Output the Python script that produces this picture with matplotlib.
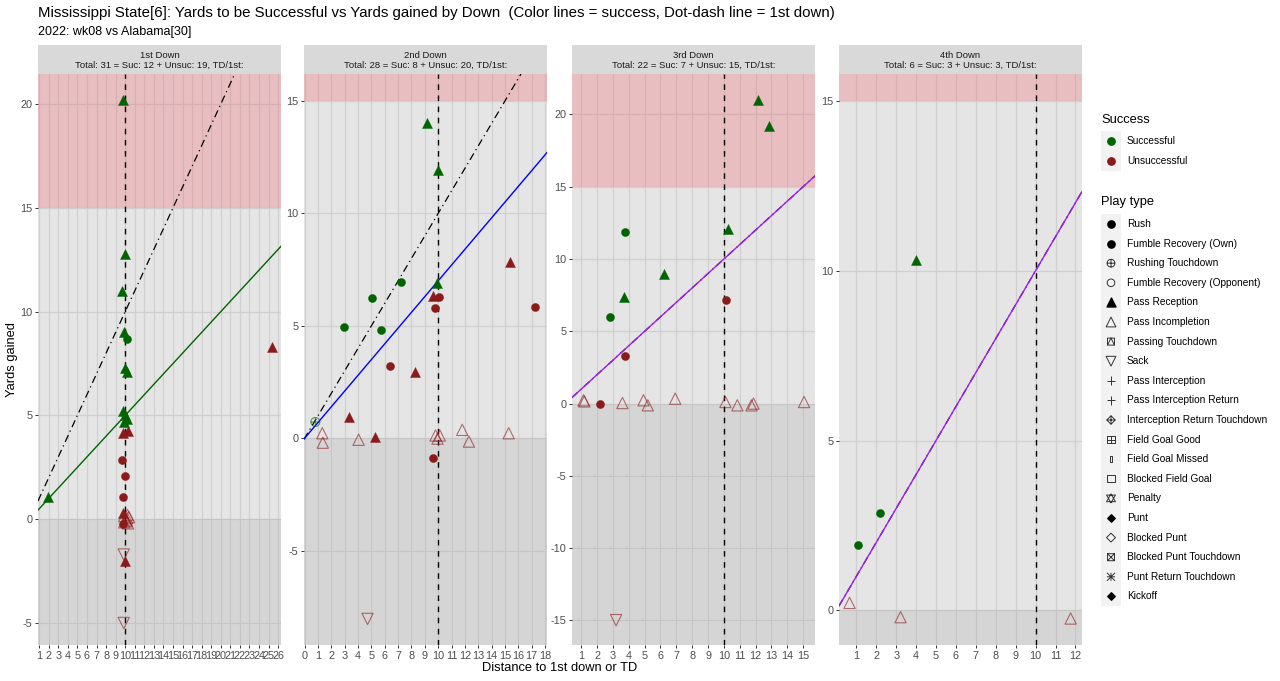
import numpy as np
import matplotlib.pyplot as plt
from matplotlib.path import Path

plt.rcParams['font.family'] = ['Liberation Sans', 'DejaVu Sans']
plt.rcParams['axes.unicode_minus'] = False

# =============================================================================
# data (distance to go, yards gained, success flag, play type)

down_names = ['1st Down', '2nd Down', '3rd Down', '4th Down']

dist1 = [1.95, 9.75, 10.0, 9.7, 9.85, 10.15, 9.95, 10.15, 9.8, 10.0, 10.2, 9.9,
         25.4, 9.8, 10.3, 9.7, 9.95, 9.8, 9.8, 10.25, 10.4, 10.1, 9.9, 10.3, 9.75,
         9.85, 10.0, 9.85, 10.2, 9.9, 10.15]
gain1 = [1.05, 20.2, 12.8, 11.0, 9.0, 8.7, 7.3, 7.1, 5.2, 5.0, 4.85, 4.7,
         8.3, 4.15, 4.25, 2.85, 2.1, 1.05, 0.3, 0.2, 0.1, -0.05, -0.15, -0.2, -0.25,
         -1.7, -2.0, -5.0, 0.05, 0.15, -0.1]
suc1 = [1] * 12 + [0] * 19
type1 = ['Pass Reception'] * 5 + ['Rush'] + ['Pass Reception'] * 6 + \
        ['Pass Reception'] * 3 + ['Rush'] * 3 + ['Pass Reception'] + \
        ['Pass Incompletion'] * 5 + ['Rush', 'Sack', 'Pass Reception', 'Sack'] + \
        ['Pass Incompletion'] * 3

dist2 = [9.18, 9.95, 9.9, 5.08, 7.22, 2.93, 5.73, 0.8,
         15.35, 17.24, 9.62, 10.07, 9.75, 6.4, 8.26, 3.3, 5.28, 9.62, 4.71,
         1.32, 1.36, 4.04, 9.8, 10.12, 11.8, 12.3, 15.28, 9.95]
gain2 = [14.03, 11.92, 6.89, 6.22, 6.96, 4.93, 4.81, 0.72,
         7.82, 5.82, 6.32, 6.27, 5.81, 3.23, 2.96, 0.96, 0.07, -0.89, -8.04,
         0.22, -0.2, -0.07, 0.12, 0.12, 0.37, -0.15, 0.22, -0.02]
suc2 = [1] * 8 + [0] * 20
type2 = ['Pass Reception'] * 3 + ['Rush'] * 4 + ['Rushing Touchdown'] + \
        ['Pass Reception', 'Rush', 'Pass Reception', 'Rush', 'Rush', 'Rush',
         'Pass Reception', 'Pass Reception', 'Pass Reception', 'Rush', 'Sack'] + \
        ['Pass Incompletion'] * 9

dist3 = [12.16, 12.85, 10.29, 3.75, 6.23, 3.67, 2.79,
         10.14, 3.77, 2.18, 1.15, 1.2, 3.6, 4.93, 5.2, 6.93, 10.1, 10.85,
         11.74, 11.87, 15.06, 3.2]
gain3 = [20.97, 19.2, 12.05, 11.87, 8.99, 7.37, 5.99,
         7.14, 3.27, 0.0, 0.23, 0.15, 0.04, 0.23, -0.12, 0.34, 0.11, -0.12,
         -0.12, 0.0, 0.11, -14.98]
suc3 = [1] * 7 + [0] * 15
type3 = ['Pass Reception'] * 3 + ['Rush', 'Pass Reception', 'Pass Reception', 'Rush'] + \
        ['Rush'] * 3 + ['Pass Incompletion'] * 11 + ['Sack']

dist4 = [4.01, 2.17, 1.08, 0.66, 3.22, 11.76]
gain4 = [10.3, 2.88, 1.92, 0.22, -0.2, -0.24]
suc4 = [1, 1, 1, 0, 0, 0]
type4 = ['Pass Reception', 'Rush', 'Rush'] + ['Pass Incompletion'] * 3

dists = [dist1, dist2, dist3, dist4]
gains = [gain1, gain2, gain3, gain4]
sucs = [suc1, suc2, suc3, suc4]
types = [type1, type2, type3, type4]

# success line slope and colour for each down
success_frac = [0.5, 0.7, 1.0, 1.0]
success_col = ['#006400', '#0000FF', '#A020F0', '#A020F0']

# axis ranges and ticks per panel
xlims = [(0.88, 26.3), (-0.05, 18.15), (0.42, 15.75), (0.13, 12.33)]
ylims = [(-6.06, 21.45), (-9.2, 16.2), (-16.7, 22.8), (-1.02, 15.79)]
xticks = [range(1, 27), range(0, 19), range(1, 16), range(1, 13)]
yticks = [range(-5, 21, 5), range(-5, 16, 5), range(-15, 21, 5), range(0, 16, 5)]

play_types = ['Rush', 'Fumble Recovery (Own)', 'Rushing Touchdown',
              'Fumble Recovery (Opponent)', 'Pass Reception', 'Pass Incompletion',
              'Passing Touchdown', 'Sack', 'Pass Interception',
              'Pass Interception Return', 'Interception Return Touchdown',
              'Field Goal Good', 'Field Goal Missed', 'Blocked Field Goal', 'Penalty',
              'Punt', 'Blocked Punt', 'Blocked Punt Touchdown',
              'Punt Return Touchdown', 'Kickoff']

# =============================================================================
# marker shapes (ggplot-like)
sq = Path([(-1, -1), (1, -1), (1, 1), (-1, 1), (-1, -1)], [1, 2, 2, 2, 79])
tri_up = Path([(-1, -0.75), (0, 1), (1, -0.75), (-1, -0.75)], [1, 2, 2, 79])
tri_dn = Path([(-1, 0.75), (0, -1), (1, 0.75), (-1, 0.75)], [1, 2, 2, 79])
diam = Path([(0, -1), (1, 0), (0, 1), (-1, 0), (0, -1)], [1, 2, 2, 2, 79])
hl = Path([(-1, 0), (1, 0)], [1, 2])
vl = Path([(0, -1), (0, 1)], [1, 2])
dg1 = Path([(-1, -1), (1, 1)], [1, 2])
dg2 = Path([(-1, 1), (1, -1)], [1, 2])
cmp = Path.make_compound_path

shapes = {
    'Rush': ('o', True, 34),
    'Fumble Recovery (Own)': ('o', True, 34),
    'Rushing Touchdown': (cmp(Path.unit_circle(), hl, vl), False, 42),
    'Fumble Recovery (Opponent)': ('o', False, 40),
    'Pass Reception': ('^', True, 52),
    'Pass Incompletion': ('^', False, 66),
    'Passing Touchdown': (cmp(sq, Path([(-1, -1), (0, 1), (1, -1)], [1, 2, 2])), False, 34),
    'Sack': ('v', False, 66),
    'Pass Interception': (cmp(hl, vl), False, 55),
    'Pass Interception Return': (cmp(hl, vl), False, 55),
    'Interception Return Touchdown': (cmp(diam, hl, vl), False, 50),
    'Field Goal Good': (cmp(sq, hl, vl), False, 34),
    'Field Goal Missed': (Path([(-0.25, -0.8), (0.25, -0.8), (0.25, 0.8), (-0.25, 0.8),
                                (-0.25, -0.8)], [1, 2, 2, 2, 79]), False, 28),
    'Blocked Field Goal': (sq, False, 34),
    'Penalty': (cmp(tri_up, tri_dn), False, 55),
    'Punt': ('D', True, 18),
    'Blocked Punt': (diam, False, 55),
    'Blocked Punt Touchdown': (cmp(sq, dg1, dg2), False, 34),
    'Punt Return Touchdown': (cmp(hl, vl, dg1, dg2), False, 45),
    'Kickoff': ('D', True, 18),
}

green = '#006400'
red = '#8B1A1A'

fig = plt.figure(figsize=(12.8, 6.81), dpi=100)
W, H = 1280.0, 681.0

panel_left = [38, 304, 572, 839]
panel_w = 243
top_px, bot_px = 74, 645

for i in range(4):
    ax = fig.add_axes([panel_left[i] / W, 1 - bot_px / H, panel_w / W, (bot_px - top_px) / H])
    ax.set_facecolor('#E5E5E5')
    ax.set_xlim(xlims[i])
    ax.set_ylim(ylims[i])
    ax.set_xticks(list(xticks[i]))
    ax.set_yticks(list(yticks[i]))
    ax.grid(True, color='#D0D0D0', lw=0.9, zorder=0)
    ax.set_axisbelow(True)
    for s in ax.spines.values():
        s.set_visible(False)
    ax.tick_params(labelsize=7.8, colors='#333333', labelcolor='#4D4D4D',
                   length=2.5, width=0.7, pad=1.5)

    # red band above 15 yards, darker band below 0
    ax.axhspan(15, 100, color='#EF676E', alpha=0.3, lw=0, zorder=1)
    ax.axhspan(-100, 0, color='#999999', alpha=0.2, lw=0, zorder=1)

    ax.axvline(10, color='black', lw=1.0, ls=(0, (4, 4)), zorder=2)
    ax.axline((0, 0), slope=1, color='black', lw=0.9, ls=(0, (6, 3, 1, 3)), zorder=2)
    ax.axline((0, 0), slope=success_frac[i], color=success_col[i], lw=1.0, zorder=3)

    d = np.array(dists[i])
    g = np.array(gains[i])
    s_ = np.array(sucs[i])
    t = np.array(types[i])
    for pt in play_types:
        mk, filled, size = shapes[pt]
        for flag, col in [(0, red), (1, green)]:
            m = (t == pt) & (s_ == flag)
            if not m.any():
                continue
            if filled:
                ax.scatter(d[m], g[m], marker=mk, s=size, color=col, linewidths=0.3,
                           edgecolors=col, zorder=4)
            else:
                ax.scatter(d[m], g[m], marker=mk, s=size, facecolors='none',
                           edgecolors=col, linewidths=0.8, alpha=0.6, zorder=4)

    # strip on top
    sax = fig.add_axes([panel_left[i] / W, 1 - top_px / H, panel_w / W, 29 / H])
    sax.set_facecolor('#D9D9D9')
    sax.set_xticks([])
    sax.set_yticks([])
    for s in sax.spines.values():
        s.set_visible(False)
    n_suc = int(s_.sum())
    n_uns = len(s_) - n_suc
    sax.text(0.5, 0.46, '%s\nTotal: %d = Suc: %d + Unsuc: %d, TD/1st:' %
             (down_names[i], len(s_), n_suc, n_uns),
             ha='center', va='center', fontsize=6.8, color='#1A1A1A', linespacing=1.15)

fig.text(38 / W, 1 - 13 / H,
         'Mississippi State[6]: Yards to be Successful vs Yards gained by Down  '
         '(Color lines = success, Dot-dash line = 1st down)',
         fontsize=10.8, va='center', ha='left')
fig.text(38 / W, 1 - 32 / H, '2022: wk08 vs Alabama[30]', fontsize=9,
         va='center', ha='left')
fig.text(12 / W, 1 - 360 / H, 'Yards gained', rotation=90, fontsize=9.3,
         va='center', ha='center')
fig.text(560 / W, 1 - 668 / H, 'Distance to 1st down or TD', fontsize=9.3,
         va='center', ha='center')

# legends, drawn by hand in pixel coordinates
lax = fig.add_axes([0, 0, 1, 1])
lax.set_xlim(0, W)
lax.set_ylim(H, 0)
lax.axis('off')

lax.text(1101, 120, 'Success', fontsize=9.3, va='center')
lax.add_patch(plt.Rectangle((1101, 131), 20, 40, color='#F2F2F2', lw=0))
for k, (lab, col) in enumerate([('Successful', green), ('Unsuccessful', red)]):
    yy = 141 + 20 * k
    lax.scatter([1111], [yy], marker='o', s=28, color=col)
    lax.text(1127, yy, lab, fontsize=7.3, va='center')

lax.text(1101, 202, 'Play type', fontsize=9.3, va='center')
lax.add_patch(plt.Rectangle((1101, 214), 20, 392, color='#F2F2F2', lw=0))
for k, pt in enumerate(play_types):
    yy = 224 + 19.6 * k
    mk, filled, size = shapes[pt]
    if filled:
        lax.scatter([1111], [yy], marker=mk, s=size * 0.8, color='black')
    else:
        lax.scatter([1111], [yy], marker=mk, s=size * 0.75, facecolors='none',
                    edgecolors='#333333', linewidths=0.7)
    lax.text(1127, yy, pt, fontsize=7.3, va='center')

fig.savefig('out.png', dpi=100)
